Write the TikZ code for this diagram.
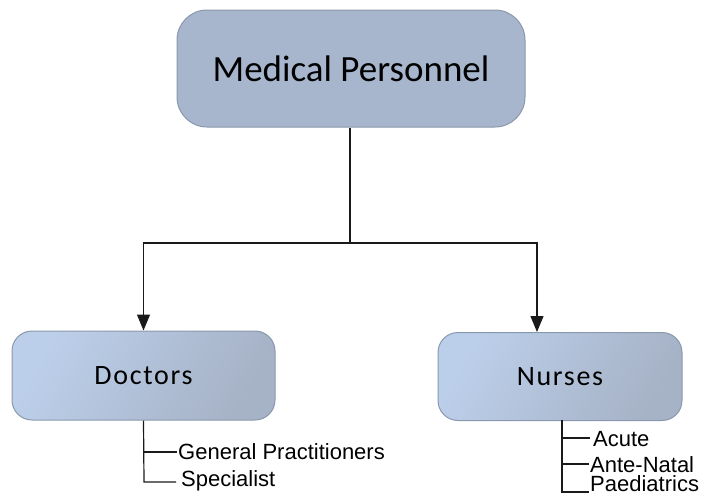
\documentclass[tikz,border=0pt]{standalone}
\usepackage{fontspec}
\setmainfont{Liberation Sans}
\newfontfamily\boxfont{Carlito}
\usetikzlibrary{arrows.meta}
\definecolor{topfill}{HTML}{A7B6CD}
\definecolor{boxedge}{HTML}{8A98AE}
\definecolor{shadelight}{HTML}{BCCFEA}
\definecolor{shademid}{HTML}{AEBDD3}
\definecolor{shadedark}{HTML}{A6B2C6}
\definecolor{linecol}{HTML}{1A1A1A}
\tikzset{
  x=1pt, y=-1pt,
  headbox/.style={draw=boxedge, line width=1pt, fill=topfill, rounded corners=30pt,
    minimum width=348pt, minimum height=117pt, inner sep=0pt,
    font=\boxfont\fontsize{37}{40}\selectfont},
  groupbox/.style={draw=boxedge, line width=1pt, rounded corners=20pt,
    left color=shadelight, middle color=shademid, right color=shadedark, shading angle=60,
    inner sep=0pt, font=\boxfont\addfontfeature{LetterSpace=6}\fontsize{28}{32}\selectfont},
  itemlabel/.style={anchor=west, inner xsep=1pt, inner ysep=0pt,
    font=\fontsize{22}{24}\selectfont},
  link/.style={draw=linecol, line width=1.2pt},
  tip/.style={-{Triangle[length=16pt,width=13pt]}}
}
\begin{document}
\begin{tikzpicture}
\useasboundingbox (0,0) rectangle (705,496);

% boxes
\node[headbox] (top) at (351,68.5) {Medical Personnel};
\node[groupbox, minimum width=263pt, minimum height=89pt] (doc) at (143.5,375.5) {Doctors};
\node[groupbox, minimum width=244pt, minimum height=88pt] (nur) at (560,376.5) {Nurses};

% branching connector
\coordinate (split) at (350,243);
\coordinate (nurin) at (537,0);
\draw[link] (top.south -| split) -- (split);
\draw[link, tip] (split) -| (doc.north);
\draw[link, tip] (split) -| (nurin |- nur.north);

% doctor specialties
\node[itemlabel] (gp) at (177,452) {General Practitioners};
\node[itemlabel] (spec) at (176,481) {\kern4pt Specialist};
\coordinate (docend) at (144,482);
\draw[link] (doc.south) -- (docend) -- (spec.west |- docend);
\draw[link] (doc.south |- gp.west) -- (gp.west);

% nursing specialties
\coordinate (nurtrunk) at (562,420);
\coordinate (nurend) at (562,492);
\node[itemlabel] (acute) at (590,439) {\kern2pt Acute};
\node[itemlabel] (ante) at (589,465) {Ante-Natal};
\node[itemlabel] (paed) at (589,484) {Paediatrics};
\draw[link] (nurtrunk) -- (nurend) -- (paed.west |- nurend);
\draw[link] (nurtrunk |- 0,438) -- (acute.west |- 0,438);
\draw[link] (nurtrunk |- 0,464) -- (ante.west |- 0,464);
\end{tikzpicture}
\end{document}
